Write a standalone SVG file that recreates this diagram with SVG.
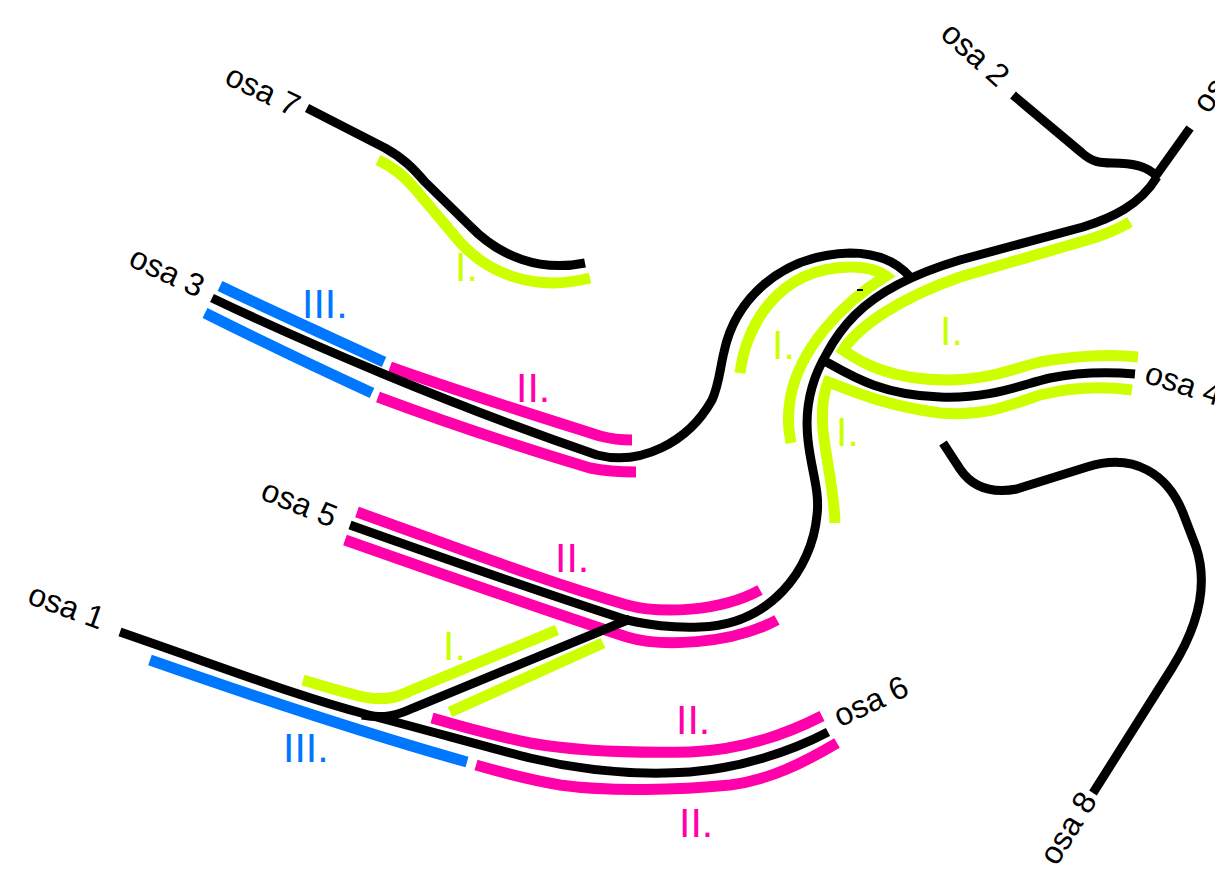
<svg xmlns="http://www.w3.org/2000/svg" width="1215" height="880" viewBox="0 0 1215 880">
<style>
.k{fill:none;stroke:#000;stroke-width:9}
.g{fill:none;stroke:#CCFF00;stroke-width:11}
.p{fill:none;stroke:#FF00AA;stroke-width:11}
.b{fill:none;stroke:#0077FF;stroke-width:11}
.lbl{font-family:"Liberation Sans",Arial,sans-serif;font-size:32px;fill:#000}
.num{font-family:"Liberation Sans",Arial,sans-serif;font-size:41px}
.ng{fill:#CCFF00}.np{fill:#FF00AA}.nb{fill:#0077FF}
</style>
<rect width="1215" height="880" fill="#fff"/>

<g id="bands">
  <g id="osa7-bands">
    <path class="g" d="M378,160 C395,168 405,177 416,190 L453,234 C485,275 535,292 590,278"/>
  </g>
  <g id="osa3-bands">
    <path class="b" d="M220,286 C270,310 330,337 384,362"/>
    <path class="b" d="M205,313 C255,338 315,367 372,393"/>
    <path class="p" d="M390,367 C460,392 540,417 600,436 C612,439 620,440 632,440"/>
    <path class="p" d="M378,397 C450,424 530,450 590,468 C605,471 620,472 636,472"/>
    <path class="g" d="M740,373 C745,330 775,268 850,267 C866,267 878,270 886,276 C842,303 798,350 790,400 C787,420 789,432 791,443"/>
  </g>
  <g id="osa4-bands">
    <path class="g" d="M1130,222 C1118,229 1105,235 1087,240 L960,277 C900,298 860,325 843,350 C860,362 890,380 947,380 C990,380 1015,368 1040,362 C1080,355 1110,354 1138,357"/>
    <path class="g" d="M835,523 C834,490 826,460 823,430 C821,405 824,392 828,382 C845,388 880,405 940,413 C985,417 1010,405 1040,395 C1080,385 1110,387 1132,390"/>
  </g>
  <g id="osa5-bands">
    <path class="p" d="M357,512 C450,545 540,580 627,605 C660,614 720,612 760,590"/>
    <path class="p" d="M345,540 C430,570 530,605 627,637 C660,647 730,645 777,620"/>
  </g>
  <g id="osa1-bands">
    <path class="b" d="M150,660 C250,695 370,735 467,762"/>
    <path class="g" d="M303,680 C330,688 355,696 370,698 C388,700 398,697 410,691 L557,630"/>
    <path class="g" d="M450,712 L603,643"/>
  </g>
  <g id="osa6-bands">
    <path class="p" d="M432,718 C470,729 500,737 530,743 C580,752 640,753 690,752 C740,750 785,735 822,716"/>
    <path class="p" d="M476,765 C500,772 525,779 560,785 C610,792 680,790 730,785 C770,780 805,762 837,743"/>
  </g>
</g>

<g id="connectors">
  <path id="track-osa7" class="k" d="M307,108 L385,148 C403,158 413,168 425,182 L470,226 C500,257 540,272 585,263"/>
  <path id="track-osa3" class="k" d="M212,298 C300,340 450,405 597,455 C640,466 688,443 712,400 C719,385 720,368 724,352 C735,300 780,255 850,253 C880,253 898,263 910,277"/>
  <path id="track-osa2" class="k" d="M1013,95 L1082,153 C1092,162 1100,163 1112,163 C1130,163 1148,165 1157,177"/>
  <path id="track-osa3b" class="k" d="M1190,128 L1155,177"/>
  <path id="track-main" class="k" d="M1157,177 C1140,205 1112,218 1083,227 L960,260 C920,272 880,290 855,315 C842,328 834,340 827,353 C812,378 804,405 808,440 C811,470 820,490 817,515 C812,570 770,625 700,627 C670,628 650,625 627,620 C540,592 440,557 350,525"/>
  <path id="track-osa4" class="k" d="M823,360 C850,375 880,395 940,397 C990,399 1020,385 1050,378 C1080,372 1110,372 1135,374"/>
  <path id="track-osa1" class="k" d="M120,632 C230,670 300,697 365,714 C430,731 490,748 530,758 C580,770 630,776 690,772 C740,768 790,752 828,732"/>
  <path id="track-branch" class="k" d="M362,715 C385,719 398,715 413,708 L630,619"/>
  <path id="track-osa8" class="k" d="M943,443 L960,469 C972,487 990,494 1017,489 L1087,467 C1135,452 1168,475 1183,513 L1196,547 C1207,580 1202,620 1172,668 L1093,793"/>
  <rect x="857" y="289" width="6" height="2" fill="#000"/>
</g>

<g id="numerals">
  <text class="num ng" x="455" y="281">I.</text>
  <text class="num nb" x="302" y="318">III.</text>
  <text class="num np" x="516" y="402">II.</text>
  <text class="num ng" x="772" y="359">I.</text>
  <text class="num ng" x="940" y="345">I.</text>
  <text class="num ng" x="836" y="446">I.</text>
  <text class="num np" x="555" y="572">II.</text>
  <text class="num ng" x="443" y="660">I.</text>
  <text class="num nb" x="283" y="762">III.</text>
  <text class="num np" x="676" y="734">II.</text>
  <text class="num np" x="679" y="837">II.</text>
</g>

<g id="labels">
  <text class="lbl" transform="translate(223,83) rotate(26)">osa 7</text>
  <text class="lbl" transform="translate(127,265) rotate(25)">osa 3</text>
  <text class="lbl" transform="translate(259,498.5) rotate(22)">osa 5</text>
  <text class="lbl" transform="translate(26,603) rotate(20)">osa 1</text>
  <text class="lbl" transform="translate(1143,382) rotate(18)">osa 4</text>
  <text class="lbl" transform="translate(840,727.5) rotate(-25)">osa 6</text>
  <text class="lbl" transform="translate(939,36) rotate(42)">osa 2</text>
  <text class="lbl" transform="translate(1056.5,867) rotate(-58)">osa 8</text>
  <text class="lbl" transform="translate(1208,115) rotate(-53)">osa 3</text>
</g>
</svg>
